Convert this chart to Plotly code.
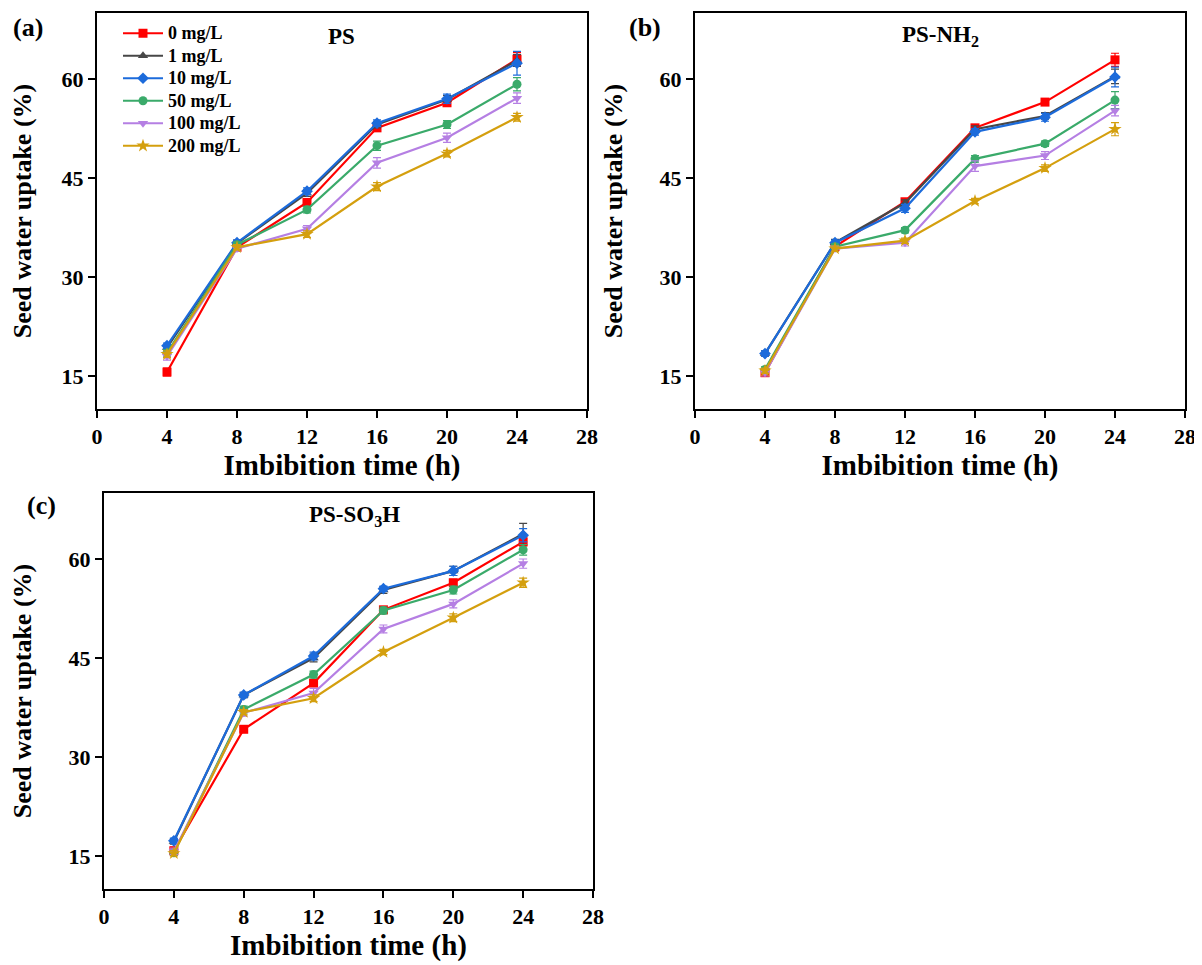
import plotly.graph_objects as go

# ── Data ──────────────────────────────────────────────────────────────────
hours = [4, 8, 12, 16, 20, 24]
doses = ["0 mg/L", "1 mg/L", "10 mg/L", "50 mg/L", "100 mg/L", "200 mg/L"]

# (a) PS
ps_vals = [
    [15.6, 34.5, 41.3, 52.6, 56.4, 63.0],
    [19.3, 35.1, 42.7, 53.1, 56.9, 62.8],
    [19.6, 35.2, 43.0, 53.3, 57.0, 62.4],
    [18.5, 34.9, 40.2, 49.9, 53.1, 59.2],
    [18.0, 34.3, 37.3, 47.3, 51.1, 57.1],
    [18.3, 34.5, 36.5, 43.7, 48.7, 54.2],
]
ps_err = [
    [0.6, 0.4, 0.5, 0.5, 0.5, 1.0],
    [0.5, 0.5, 0.5, 0.5, 0.6, 0.9],
    [0.4, 0.4, 0.5, 0.5, 0.7, 1.8],
    [0.5, 0.4, 0.5, 0.7, 0.6, 1.0],
    [0.6, 0.4, 0.5, 0.8, 0.7, 0.8],
    [0.5, 0.4, 0.5, 0.6, 0.5, 0.6],
]

# (b) PS-NH2
nh2_vals = [
    [15.5, 34.6, 41.4, 52.6, 56.5, 62.9],
    [18.4, 35.2, 41.2, 52.4, 54.4, 60.4],
    [18.4, 35.2, 40.4, 52.0, 54.2, 60.3],
    [16.0, 34.6, 37.1, 47.9, 50.2, 56.8],
    [15.5, 34.3, 35.2, 46.8, 48.4, 55.2],
    [15.8, 34.3, 35.5, 41.5, 46.5, 52.4],
]
nh2_err = [
    [0.4, 0.4, 0.4, 0.4, 0.4, 1.0],
    [0.4, 0.5, 0.5, 0.5, 0.5, 1.1],
    [0.4, 0.4, 0.6, 0.5, 0.6, 1.5],
    [0.4, 0.4, 0.4, 0.5, 0.4, 1.3],
    [0.5, 0.4, 0.5, 0.8, 0.6, 0.8],
    [0.4, 0.4, 0.4, 0.4, 0.5, 1.0],
]

# (c) PS-SO3H
so3h_vals = [
    [15.8, 34.2, 41.2, 52.3, 56.4, 62.6],
    [17.2, 39.4, 45.0, 55.3, 58.2, 63.8],
    [17.3, 39.4, 45.3, 55.5, 58.2, 63.6],
    [15.5, 37.2, 42.5, 52.2, 55.3, 61.4],
    [15.7, 36.7, 39.7, 49.4, 53.2, 59.3],
    [15.4, 36.8, 38.9, 45.9, 51.1, 56.4],
]
so3h_err = [
    [0.5, 0.4, 0.5, 0.4, 0.5, 0.6],
    [0.4, 0.4, 0.6, 0.5, 0.7, 1.6],
    [0.4, 0.4, 0.6, 0.4, 0.7, 1.0],
    [0.4, 0.5, 0.5, 0.5, 0.6, 0.8],
    [0.5, 0.5, 0.7, 0.6, 0.6, 0.7],
    [0.4, 0.4, 0.5, 0.4, 0.6, 0.7],
]

x_ticks = [0, 4, 8, 12, 16, 20, 24, 28]
y_ticks = [15, 30, 45, 60]

COLORS = ["#FF0000", "#474747", "#1C6BDB", "#3AAA6A", "#B57FE3", "#D49F0E"]
SYMBOLS = ["square", "triangle-up", "diamond", "circle", "triangle-down", "star"]
FONT = "Liberation Serif, Times New Roman, serif"

W, H = 1202, 965
PAGE_OFF = 8  # default body margin of the html page


def px_x(p):
    return (p - PAGE_OFF) / W


def px_y(p):
    return 1 - (p - PAGE_OFF) / H


# panel boxes in screen pixels: (left, right, top, bottom)
boxes = [
    (97, 587, 13, 409),
    (695, 1185, 13, 409),
    (104, 593, 493, 889),
]
panels = [
    ("PS", ps_vals, ps_err),
    ("PS-NH<sub>2</sub>", nh2_vals, nh2_err),
    ("PS-SO<sub>3</sub>H", so3h_vals, so3h_err),
]

fig = go.Figure()

for p, (title, vals, errs) in enumerate(panels):
    suffix = "" if p == 0 else str(p + 1)
    for i, name in enumerate(doses):
        fig.add_trace(go.Scatter(
            x=hours, y=vals[i],
            error_y=dict(type="data", array=errs[i], color=COLORS[i],
                         thickness=1.2, width=4),
            mode="lines+markers",
            # bigger text than the legend font keeps the tight row spacing
            name=f'<span style="font-size:18px">{name}</span>',
            line=dict(color=COLORS[i], width=2.2),
            marker=dict(symbol=SYMBOLS[i], size=9 if SYMBOLS[i] != "star" else 10,
                        color=COLORS[i]),
            showlegend=(p == 0),
            xaxis="x" + suffix, yaxis="y" + suffix,
        ))

axis_common = dict(
    showline=True, linewidth=2, linecolor="black", mirror=True,
    ticks="outside", ticklen=7, tickwidth=2, tickcolor="black",
    showgrid=False, zeroline=False, automargin=False,
    tickfont=dict(family=FONT, size=22, color="black", weight="bold"),
)

layout = dict(
    width=W, height=H,
    paper_bgcolor="white", plot_bgcolor="white",
    margin=dict(l=0, r=0, t=0, b=0),
    font=dict(family=FONT, color="black"),
    legend=dict(
        x=px_x(118), y=px_y(17), xanchor="left", yanchor="top",
        bgcolor="rgba(0,0,0,0)",
        font=dict(family=FONT, size=15, color="black", weight="bold"),
        tracegroupgap=0, itemwidth=40,
    ),
)

annotations = []
labels = ["(a)", "(b)", "(c)"]
label_pos = [(28, 28), (645, 28), (41, 505)]
title_dx = [0, 0, 6]
for p, (l, r, t, b) in enumerate(boxes):
    suffix = "" if p == 0 else str(p + 1)
    layout["xaxis" + suffix] = dict(
        axis_common, domain=[px_x(l), px_x(r)], range=[0, 28],
        tickvals=x_ticks, anchor="y" + suffix,
        title=dict(text="Imbibition time (h)", standoff=4,
                   font=dict(family=FONT, size=29, color="black", weight="bold")),
    )
    layout["yaxis" + suffix] = dict(
        axis_common, domain=[px_y(b), px_y(t)], range=[10, 70],
        tickvals=y_ticks, anchor="x" + suffix,
        title=dict(text="Seed water uptake (%)", standoff=29,
                   font=dict(family=FONT, size=26, color="black", weight="bold")),
    )
    title = panels[p][0]
    annotations.append(dict(
        text=f"<b>{title}</b>", xref="paper", yref="paper",
        x=px_x((l + r) / 2 + title_dx[p]), y=px_y(t + 23),
        xanchor="center", yanchor="middle", showarrow=False,
        font=dict(family=FONT, size=23, color="black"),
    ))
    lx, ly = label_pos[p]
    annotations.append(dict(
        text=f"<b>{labels[p]}</b>", xref="paper", yref="paper",
        x=px_x(lx), y=px_y(ly), xanchor="center", yanchor="middle",
        showarrow=False,
        font=dict(family=FONT, size=26, color="black"),
    ))

layout["annotations"] = annotations
fig.update_layout(**layout)

fig.write_html("out.html")
